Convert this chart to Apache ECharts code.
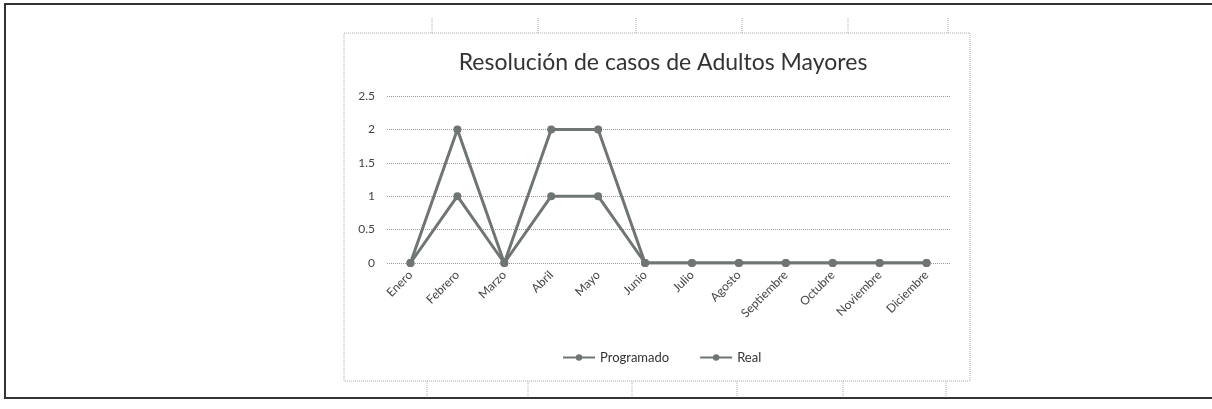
<!DOCTYPE html>
<html>
<head>
<meta charset="utf-8">
<script src="https://cdn.jsdelivr.net/npm/echarts@6/dist/echarts.min.js"></script>
<style>
  html, body { margin: 0; padding: 0; background: #fff; }
  #chart { width: 1212px; height: 409px; }
</style>
</head>
<body>
<div id="chart"></div>
<script>
const meses = ['Enero', 'Febrero', 'Marzo', 'Abril', 'Mayo', 'Junio', 'Julio', 'Agosto', 'Septiembre', 'Octubre', 'Noviembre', 'Diciembre'];
const programado = [0, 2, 0, 2, 2, 0, 0, 0, 0, 0, 0, 0];
const real = [0, 1, 0, 1, 1, 0, 0, 0, 0, 0, 0, 0];

const lineColor = '#6f7574';
const font = 'Lato, "Open Sans", sans-serif';

// table cell borders around the pasted chart (scan decoration)
const topTicks = [432, 538, 636, 742, 848, 948];
const bottomTicks = [427, 528, 632, 737, 843, 946];

let deco = [
  { type: 'rect', shape: { x: 5, y: 4, width: 1215, height: 394 },
    style: { fill: null, stroke: '#333', lineWidth: 2 } },
  { type: 'rect', shape: { x: 344, y: 33, width: 626, height: 348 },
    style: { fill: null, stroke: '#aaa', lineWidth: 1, lineDash: [1, 1] } }
];
topTicks.forEach(function (x) {
  deco.push({ type: 'line', shape: { x1: x, y1: 18, x2: x, y2: 33 },
    style: { stroke: '#aaa', lineWidth: 1, lineDash: [1, 1] } });
});
bottomTicks.forEach(function (x) {
  deco.push({ type: 'line', shape: { x1: x, y1: 381, x2: x, y2: 396 },
    style: { stroke: '#aaa', lineWidth: 1, lineDash: [1, 1] } });
});

let myChart = echarts.init(document.getElementById('chart'));
let option = {
  backgroundColor: '#fff',
  title: {
    text: 'Resolución de casos de Adultos Mayores',
    left: 658,
    textAlign: 'center',
    top: 46,
    textStyle: { fontFamily: font, fontSize: 23, fontWeight: 'normal', color: '#333' }
  },
  legend: {
    data: ['Programado', 'Real'],
    left: 557,
    top: 346,
    itemWidth: 32,
    itemHeight: 8,
    itemGap: 30,
    textStyle: { fontFamily: font, fontSize: 13, color: '#333' }
  },
  grid: { left: 387, right: 262, top: 96, bottom: 146 },
  xAxis: {
    type: 'category',
    data: meses,
    axisLine: { show: false },
    axisTick: { show: false },
    axisLabel: { rotate: 45, fontFamily: font, fontSize: 12, color: '#444', margin: 10 }
  },
  yAxis: {
    type: 'value',
    min: 0,
    max: 2.5,
    interval: 0.5,
    axisLine: { show: false },
    axisTick: { show: false },
    axisLabel: { fontFamily: font, fontSize: 12, color: '#444', margin: 12 },
    splitLine: { lineStyle: { color: '#999', type: [1, 1], width: 1 } }
  },
  series: [
    {
      name: 'Programado',
      type: 'line',
      data: programado,
      symbol: 'circle',
      symbolSize: 8,
      itemStyle: { color: lineColor },
      lineStyle: { color: lineColor, width: 3 }
    },
    {
      name: 'Real',
      type: 'line',
      data: real,
      symbol: 'circle',
      symbolSize: 8,
      itemStyle: { color: lineColor },
      lineStyle: { color: lineColor, width: 3 }
    }
  ],
  graphic: deco
};
myChart.setOption(option);
</script>
</body>
</html>
